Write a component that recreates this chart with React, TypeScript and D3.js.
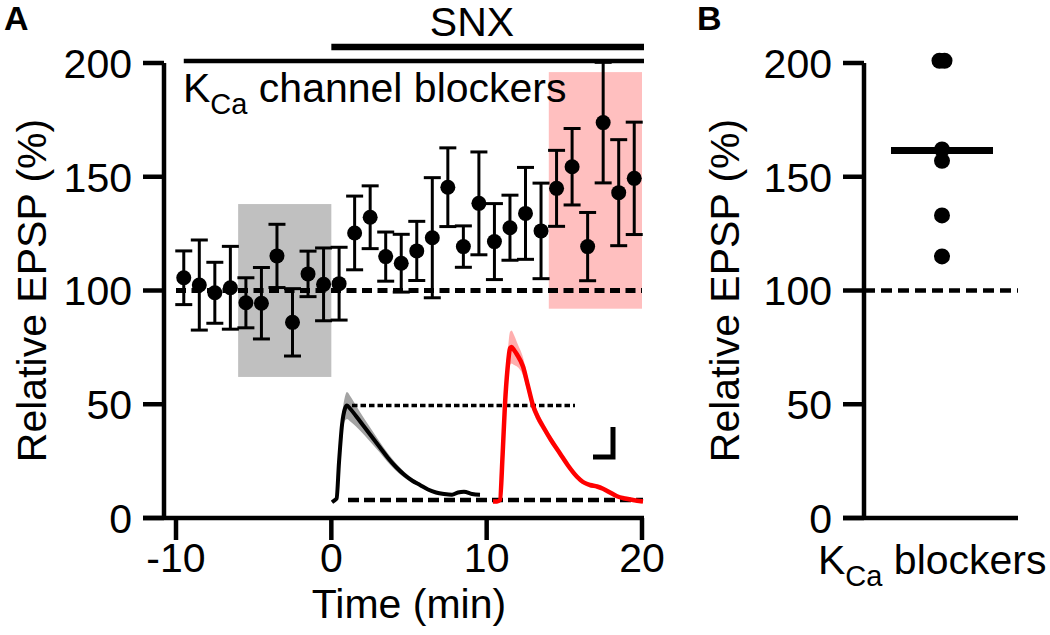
import React from "react";
import * as d3 from "d3";

// ---------- Panel A data ----------
const timeMin = [-9.5, -8.5, -7.5, -6.5, -5.5, -4.5, -3.5, -2.5, -1.5, -0.5, 0.5, 1.5, 2.5, 3.5, 4.5, 5.5, 6.5, 7.5, 8.5, 9.5, 10.5, 11.5, 12.5, 13.5, 14.5, 15.5, 16.5, 17.5, 18.5, 19.5];
const meanEPSP = [105.6, 102.4, 99.0, 101.2, 94.6, 94.4, 115.2, 86.0, 107.3, 102.7, 103.0, 125.3, 132.2, 114.9, 112.0, 117.4, 123.2, 145.4, 119.3, 138.3, 121.5, 127.6, 133.9, 126.2, 144.9, 154.4, 119.3, 173.8, 143.0, 149.3];
const semEPSP = [11.8, 19.8, 13.4, 18.2, 11.0, 15.7, 13.9, 14.8, 10.0, 16.0, 16.0, 16.2, 13.8, 10.8, 12.7, 13.0, 26.4, 17.3, 9.1, 22.6, 16.7, 14.3, 20.2, 21.0, 16.7, 16.8, 15.0, 26.5, 23.3, 24.7];
const xTicks = [-10, 0, 10, 20];
const yTicks = [0, 50, 100, 150, 200];

// shaded windows [t0, t1, lo, hi]
const baselineWindow = [-6, 0, 62, 138];
const snxWindow = [14, 20, 92, 196];
// drug application bars [start, end]
const kcaBar = [-9.5, 20];
const snxBar = [0, 20];

// ---------- Inset traces (ms, mV) ----------
const blackT = [0, 1, 2.3, 3.5, 5, 6.5, 7.5, 9, 12, 16, 20, 24, 28, 32, 36, 40, 44, 48, 52, 56, 60, 63, 66, 70, 74];
const blackV = [-0.15, -0.05, 0.1, 2.5, 5.0, 6.1, 6.3, 6.1, 5.6, 4.9, 4.2, 3.5, 2.8, 2.2, 1.7, 1.3, 1.0, 0.7, 0.5, 0.4, 0.35, 0.5, 0.55, 0.4, 0.35];
const blackSem = [0, 0, 0.05, 0.3, 0.6, 0.8, 0.9, 0.85, 0.7, 0.55, 0.45, 0.35, 0.3, 0.25, 0.2, 0.15, 0.12, 0.1, 0.1, 0.1, 0.1, 0.1, 0.1, 0.1, 0.1];
const redT = [0, 2, 3.5, 4.8, 6, 7.3, 8.5, 9.2, 10.5, 12, 15, 17.5, 20, 22.5, 25, 29, 33.5, 37.5, 42, 45, 48.5, 52, 55, 58.5, 62, 66, 70, 75];
const redV = [-0.1, -0.1, 0, 3.0, 6.4, 8.8, 10.1, 10.2, 10.0, 9.7, 8.9, 7.6, 6.3, 5.5, 4.9, 4.0, 3.1, 2.3, 1.55, 1.2, 1.0, 0.9, 0.75, 0.5, 0.25, 0.1, 0.0, -0.1];
const redSem = [0, 0, 0, 0.3, 0.6, 0.9, 1.1, 1.1, 1.0, 0.8, 0.6, 0.5, 0.4, 0.35, 0.3, 0.25, 0.2, 0.2, 0.15, 0.15, 0.15, 0.1, 0.1, 0.1, 0.1, 0.1, 0.1, 0.1];
const traceOffsets = [0, 80.5]; // ms: black (baseline), red (SNX)
const scaleBarMs = 10;
const scaleBarMv = 2;

// ---------- Panel B data ----------
const groupB = ["KCa blockers"];
const kcaCells = [201, 201, 162, 157, 133, 115];

const FONT = "'Liberation Sans', Arial, Helvetica, sans-serif";
const FS = 41;

export default function App() {
  const x = d3.scaleLinear().domain([-10, 20]).range([176, 642]);
  const y = d3.scaleLinear().domain([0, 200]).range([518, 63]);
  const yAxisX = 164;
  const axisW = 4.5;

  // inset scales
  const ix = d3.scaleLinear().domain([0, 155.5]).range([332, 643]);
  const iy = d3.scaleLinear().domain([0, 10]).range([500, 350]);

  const mkLine = (off: number) =>
    d3.line<[number, number]>().x((d) => ix(d[0] + off)).y((d) => iy(d[1])).curve(d3.curveMonotoneX);
  const mkArea = (off: number) =>
    d3
      .area<[number, number, number]>()
      .x((d) => ix(d[0] + off))
      .y0((d) => iy(d[1] - d[2]))
      .y1((d) => iy(d[1] + d[2]))
      .curve(d3.curveMonotoneX);

  const blackPts = blackT.map((t, i) => [t, blackV[i], blackSem[i]] as [number, number, number]);
  const redPts = redT.map((t, i) => [t, redV[i], redSem[i]] as [number, number, number]);
  const blackPeak = d3.max(blackV) as number;

  // Panel B
  const yB = y;
  const xB = d3.scalePoint<string>().domain(groupB).range([866, 1018]).padding(0.5);
  const bAxisX = 864;
  const meanB = d3.mean(kcaCells) as number;
  const counts: Record<string, number> = {};
  kcaCells.forEach((v) => (counts[v.toFixed(0)] = (counts[v.toFixed(0)] || 0) + 1));
  const seen: Record<string, number> = {};
  const bPts = kcaCells.map((v) => {
    const k = v.toFixed(0);
    const n = counts[k];
    const idx = seen[k] || 0;
    seen[k] = idx + 1;
    const off = n > 1 ? (idx - (n - 1) / 2) * 5 : 0;
    return { v, cx: (xB(groupB[0]) as number) + off };
  });

  return (
    <svg
      width={1050}
      height={635}
      style={{ position: "absolute", left: 0, top: 0, background: "#fff" }}
      fontFamily={FONT}
    >
      {/* Panel labels */}
      <text x={4} y={30} fontSize={34} fontWeight="bold">A</text>
      <text x={697} y={30} fontSize={34} fontWeight="bold">B</text>

      {/* ---------- Panel A ---------- */}
      <rect x={x(baselineWindow[0])} y={y(baselineWindow[3])} width={x(baselineWindow[1]) - x(baselineWindow[0])} height={y(baselineWindow[2]) - y(baselineWindow[3])} fill="#c0c0c0" />
      <rect x={x(snxWindow[0])} y={y(snxWindow[3])} width={x(snxWindow[1]) - x(snxWindow[0])} height={y(snxWindow[2]) - y(snxWindow[3])} fill="#ffbfbf" />

      {/* drug bars */}
      <line x1={x(kcaBar[0])} x2={x(kcaBar[1]) + 2} y1={61} y2={61} stroke="#000" strokeWidth={4.5} />
      <line x1={x(snxBar[0])} x2={x(snxBar[1]) + 2} y1={47} y2={47} stroke="#000" strokeWidth={6.5} />
      <text x={472} y={36} fontSize={FS} textAnchor="middle">SNX</text>
      <text x={183} y={102} fontSize={FS}>
        K<tspan fontSize={29} dy={12}>Ca</tspan>
        <tspan dy={-12}> channel blockers</tspan>
      </text>

      {/* 100% baseline */}
      <line x1={x(-10)} x2={x(20)} y1={y(100)} y2={y(100)} stroke="#000" strokeWidth={5} strokeDasharray="10 5.5" />

      {/* error bars */}
      {timeMin.map((t, i) => (
        <g key={"eb" + i} stroke="#000" strokeWidth={3}>
          <line x1={x(t)} x2={x(t)} y1={y(meanEPSP[i] + semEPSP[i])} y2={y(meanEPSP[i] - semEPSP[i])} />
          <line x1={x(t) - 8.5} x2={x(t) + 8.5} y1={y(meanEPSP[i] + semEPSP[i])} y2={y(meanEPSP[i] + semEPSP[i])} />
          <line x1={x(t) - 8.5} x2={x(t) + 8.5} y1={y(meanEPSP[i] - semEPSP[i])} y2={y(meanEPSP[i] - semEPSP[i])} />
        </g>
      ))}
      {timeMin.map((t, i) => (
        <circle key={"pt" + i} cx={x(t)} cy={y(meanEPSP[i])} r={7.5} fill="#000" />
      ))}

      {/* inset traces */}
      <path d={mkArea(traceOffsets[0])(blackPts) || ""} fill="#8c8c8c" opacity={0.8} />
      <path d={mkArea(traceOffsets[1])(redPts) || ""} fill="#ff9a9a" opacity={0.8} />
      <line x1={ix(10)} x2={ix(121.5)} y1={iy(blackPeak)} y2={iy(blackPeak)} stroke="#000" strokeWidth={3.5} strokeDasharray="5.5 3" />
      <line x1={ix(8)} x2={ix(155.5)} y1={iy(0)} y2={iy(0)} stroke="#000" strokeWidth={4.5} strokeDasharray="11 5" />
      <path d={mkLine(traceOffsets[0])(blackPts.map((d) => [d[0], d[1]] as [number, number])) || ""} fill="none" stroke="#000" strokeWidth={4} strokeLinejoin="round" />
      <path d={mkLine(traceOffsets[1])(redPts.map((d) => [d[0], d[1]] as [number, number])) || ""} fill="none" stroke="#ff0000" strokeWidth={4.5} strokeLinejoin="round" />
      <path
        d={`M${ix(140.5 - scaleBarMs)},${iy(2.87)} H${ix(140.5)} V${iy(2.87 + scaleBarMv)}`}
        fill="none"
        stroke="#000"
        strokeWidth={5}
      />

      {/* axes A */}
      <line x1={yAxisX} x2={yAxisX} y1={y(200)} y2={y(0)} stroke="#000" strokeWidth={axisW} />
      <line x1={143} x2={x(20) + 2} y1={y(0)} y2={y(0)} stroke="#000" strokeWidth={axisW} />
      {yTicks.map((v) => (
        <g key={"yt" + v}>
          <line x1={143} x2={yAxisX} y1={y(v)} y2={y(v)} stroke="#000" strokeWidth={axisW} />
          <text x={132} y={y(v)} dy="0.36em" fontSize={FS} textAnchor="end">{v}</text>
        </g>
      ))}
      {xTicks.map((v) => (
        <g key={"xt" + v}>
          <line x1={x(v)} x2={x(v)} y1={y(0)} y2={y(0) + 22} stroke="#000" strokeWidth={axisW} />
          <text x={x(v)} y={572} fontSize={FS} textAnchor="middle">{v}</text>
        </g>
      ))}
      <text x={409} y={618} fontSize={FS} textAnchor="middle">Time (min)</text>
      <text transform={`translate(46, ${y(100)}) rotate(-90)`} fontSize={FS} textAnchor="middle">Relative EPSP (%)</text>

      {/* ---------- Panel B ---------- */}
      <line x1={bAxisX} x2={1018} y1={yB(100)} y2={yB(100)} stroke="#000" strokeWidth={4.5} strokeDasharray="11 6" />
      <line x1={bAxisX} x2={bAxisX} y1={yB(200)} y2={yB(0)} stroke="#000" strokeWidth={axisW} />
      <line x1={843} x2={1018} y1={yB(0)} y2={yB(0)} stroke="#000" strokeWidth={axisW} />
      {yTicks.map((v) => (
        <g key={"ybt" + v}>
          <line x1={843} x2={bAxisX} y1={yB(v)} y2={yB(v)} stroke="#000" strokeWidth={axisW} />
          <text x={832} y={yB(v)} dy="0.36em" fontSize={FS} textAnchor="end">{v}</text>
        </g>
      ))}
      {bPts.map((p, i) => (
        <circle key={"b" + i} cx={p.cx} cy={yB(p.v)} r={8} fill="#000" />
      ))}
      <line x1={(xB(groupB[0]) as number) - 51} x2={(xB(groupB[0]) as number) + 51} y1={yB(meanB)} y2={yB(meanB)} stroke="#000" strokeWidth={7} />
      <text x={818} y={574} fontSize={FS}>
        K<tspan fontSize={29} dy={12}>Ca</tspan>
        <tspan dy={-12}> blockers</tspan>
      </text>
      <text transform={`translate(739, ${yB(100)}) rotate(-90)`} fontSize={FS} textAnchor="middle">Relative EPSP (%)</text>
    </svg>
  );
}
